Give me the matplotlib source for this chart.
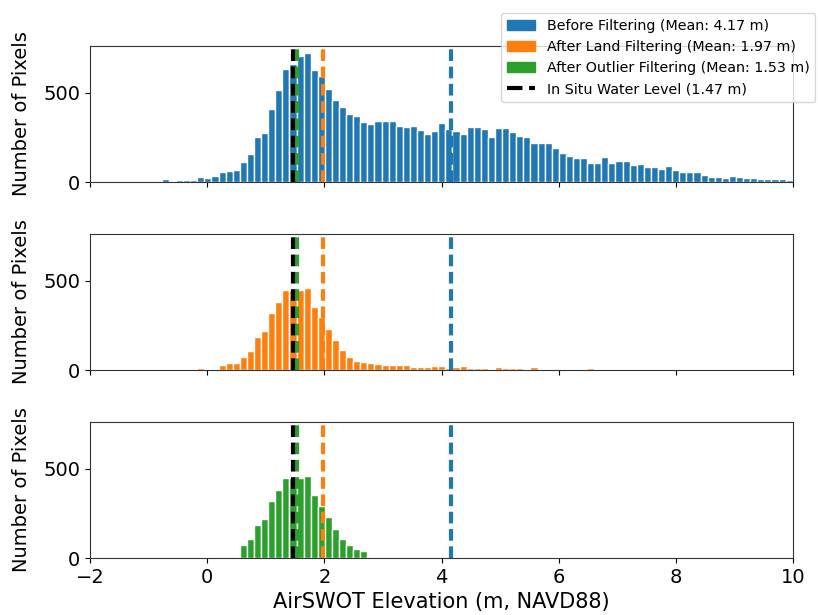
import numpy as np
import matplotlib
matplotlib.use("Agg")
import matplotlib.pyplot as plt
from matplotlib.patches import Patch
from matplotlib.lines import Line2D

# histogram bins shared by all three panels (100 bins, -1.5 .. 10.6 m)
bin_start = -1.5
bin_width = 0.121
n_bins = 100

counts_before = [
    0, 0, 0, 3, 0, 0, 15, 4, 10, 14,
    14, 26, 22, 32, 54, 62, 67, 110, 155, 255,
    275, 408, 517, 633, 661, 708, 723, 629, 595, 522,
    461, 419, 382, 371, 339, 328, 343, 343, 343, 316,
    309, 313, 292, 268, 287, 331, 298, 286, 270, 307,
    307, 298, 251, 303, 301, 281, 257, 253, 221, 221,
    221, 189, 165, 148, 135, 135, 107, 107, 139, 109,
    116, 116, 94, 99, 82, 82, 73, 88, 67, 56,
    54, 54, 39, 28, 28, 22, 36, 28, 21, 22,
    17, 15, 15, 17, 11, 10, 8, 6, 4, 3,
]
counts_land = [
    0, 0, 0, 0, 0, 0, 0, 0, 0, 0,
    0, 11, 6, 6, 28, 37, 39, 73, 108, 185,
    219, 318, 381, 452, 452, 452, 462, 353, 295, 232,
    170, 112, 73, 50, 47, 39, 34, 28, 28, 26,
    28, 19, 15, 19, 22, 22, 13, 17, 20, 13,
    13, 13, 4, 17, 11, 9, 11, 6, 17, 6,
    0, 4, 0, 0, 0, 4, 9, 0, 4, 4,
    0, 6, 6, 6, 0, 0, 0, 4, 0, 0,
    0, 0, 0, 0, 0, 0, 0, 0, 0, 0,
    0, 0, 0, 0, 0, 0, 0, 0, 0, 0,
]
counts_outlier = [
    0, 0, 0, 0, 0, 0, 0, 0, 0, 0,
    0, 0, 0, 0, 0, 0, 7, 73, 108, 185,
    219, 318, 381, 452, 452, 452, 462, 353, 292, 232,
    164, 108, 73, 49, 41, 0, 0, 0, 0, 0,
    0, 0, 0, 0, 0, 0, 0, 0, 0, 0,
    0, 0, 0, 0, 0, 0, 0, 0, 0, 0,
    0, 0, 0, 0, 0, 0, 0, 0, 0, 0,
    0, 0, 0, 0, 0, 0, 0, 0, 0, 0,
    0, 0, 0, 0, 0, 0, 0, 0, 0, 0,
    0, 0, 0, 0, 0, 0, 0, 0, 0, 0,
]

mean_before = 4.17
mean_land = 1.97
mean_outlier = 1.53
in_situ = 1.47

colors = ["tab:blue", "tab:orange", "tab:green"]
labels = [
    f"Before Filtering (Mean: {mean_before:.2f} m)",
    f"After Land Filtering (Mean: {mean_land:.2f} m)",
    f"After Outlier Filtering (Mean: {mean_outlier:.2f} m)",
]

left_edges = bin_start + bin_width * np.arange(n_bins)
dash = (2.8, 1.35)

fig = plt.figure(figsize=(8.18, 6.15), dpi=100)
axes = []
for top, bottom in [(46, 182), (234, 370), (422, 558)]:
    ax = fig.add_axes([90 / 818, 1 - bottom / 615, 703 / 818, (bottom - top) / 615])
    axes.append(ax)

for ax, counts, c in zip(axes, [counts_before, counts_land, counts_outlier], colors):
    ax.bar(left_edges, counts, width=bin_width, align="edge", color=c,
           edgecolor="white", linewidth=1)
    ax.axvline(mean_before, color="tab:blue", linestyle="--", dashes=dash, linewidth=3)
    ax.axvline(mean_land, color="tab:orange", linestyle="--", dashes=dash, linewidth=3)
    ax.axvline(mean_outlier, color="tab:green", linestyle="--", dashes=dash, linewidth=3)
    ax.axvline(in_situ, color="black", linestyle="--", dashes=dash, linewidth=3)
    ax.set_xlim(-2, 10)
    ax.set_ylim(0, 764)
    ax.set_yticks([0, 500])
    ax.set_xticks(np.arange(-2, 11, 2))
    ax.set_ylabel("Number of Pixels", fontsize=14, labelpad=9)
    ax.tick_params(labelsize=14)
    for sp in ax.spines.values():
        sp.set_color("#333333")

for ax in axes[:2]:
    ax.tick_params(labelbottom=False)
axes[2].set_xlabel("AirSWOT Elevation (m, NAVD88)", fontsize=15)

handles = [Patch(color=c) for c in colors]
handles.append(Line2D([], [], color="black", linestyle="--", linewidth=3))
fig.legend(handles, labels + [f"In Situ Water Level ({in_situ:.2f} m)"],
           loc="upper left", bbox_to_anchor=(501 / 818, 1 - 13 / 615),
           borderaxespad=0, fontsize=10.3)

fig.savefig("out.png", dpi=100)
